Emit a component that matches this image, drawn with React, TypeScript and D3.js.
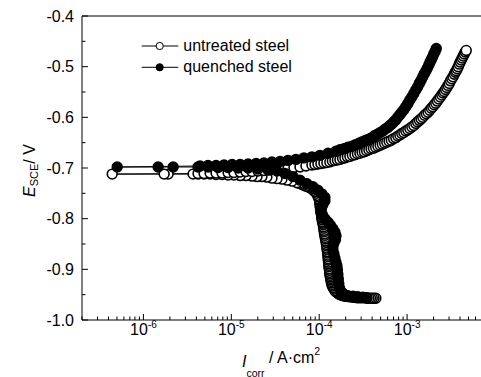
import React from "react";
import * as d3 from "d3";

// [current density (A/cm2), potential (V vs SCE)], in scan order
// cathodic branch first, then anodic branch
const untreated: [number, number][] = [
  [4.41e-4, -0.957], [4.21e-4, -0.957], [4.02e-4, -0.957], [3.84e-4, -0.957], [3.67e-4, -0.957],
  [3.48e-4, -0.957], [3.3e-4, -0.956], [3.13e-4, -0.956], [2.97e-4, -0.956], [2.82e-4, -0.956],
  [2.68e-4, -0.956], [2.54e-4, -0.955], [2.41e-4, -0.955], [2.29e-4, -0.954], [2.17e-4, -0.954],
  [2.06e-4, -0.953], [1.96e-4, -0.953], [1.87e-4, -0.952], [1.79e-4, -0.951], [1.72e-4, -0.95],
  [1.65e-4, -0.948], [1.6e-4, -0.946], [1.55e-4, -0.944], [1.51e-4, -0.942], [1.47e-4, -0.939],
  [1.44e-4, -0.936], [1.41e-4, -0.933], [1.395e-4, -0.93], [1.38e-4, -0.927], [1.37e-4, -0.924],
  [1.36e-4, -0.921], [1.35e-4, -0.918], [1.34e-4, -0.915], [1.33e-4, -0.912], [1.32e-4, -0.909],
  [1.315e-4, -0.906], [1.31e-4, -0.902], [1.3e-4, -0.899], [1.29e-4, -0.895], [1.285e-4, -0.892],
  [1.28e-4, -0.889], [1.275e-4, -0.886], [1.27e-4, -0.882], [1.265e-4, -0.879], [1.26e-4, -0.875],
  [1.255e-4, -0.872], [1.25e-4, -0.868], [1.24e-4, -0.865], [1.23e-4, -0.861], [1.225e-4, -0.858],
  [1.22e-4, -0.854], [1.21e-4, -0.851], [1.2e-4, -0.847], [1.19e-4, -0.844], [1.18e-4, -0.84],
  [1.17e-4, -0.837], [1.16e-4, -0.833], [1.15e-4, -0.83], [1.14e-4, -0.826], [1.135e-4, -0.823],
  [1.13e-4, -0.819], [1.12e-4, -0.816], [1.11e-4, -0.812], [1.1e-4, -0.809], [1.09e-4, -0.806],
  [1.08e-4, -0.802], [1.07e-4, -0.799], [1.065e-4, -0.796], [1.06e-4, -0.792], [1.05e-4, -0.789],
  [1.04e-4, -0.785], [1.035e-4, -0.782], [1.03e-4, -0.778], [1.025e-4, -0.775], [1.02e-4, -0.771],
  [1.015e-4, -0.768], [1.01e-4, -0.764], [9.95e-5, -0.761], [9.79e-5, -0.757], [9.54e-5, -0.754],
  [9.29e-5, -0.75], [8.93e-5, -0.747], [8.59e-5, -0.744], [8.21e-5, -0.741], [7.84e-5, -0.739],
  [7.44e-5, -0.737], [7.06e-5, -0.736], [6.66e-5, -0.734], [6.28e-5, -0.732], [5.92e-5, -0.73],
  [5.58e-5, -0.729], [4.9e-5, -0.726], [4.3e-5, -0.724], [3.77e-5, -0.722], [3.31e-5, -0.721],
  [2.9e-5, -0.72], [2.54e-5, -0.718], [2.23e-5, -0.717], [1.96e-5, -0.717], [1.72e-5, -0.716],
  [1.47e-5, -0.715], [1.26e-5, -0.715], [1.07e-5, -0.714], [9.18e-6, -0.714], [7.84e-6, -0.713],
  [6.7e-6, -0.713], [5.73e-6, -0.712], [4.9e-6, -0.712], [4.18e-6, -0.712], [3.67e-6, -0.712],
  [1.91e-6, -0.712], [1.72e-6, -0.712], [4.41e-7, -0.712],
  [4.18e-6, -0.711], [4.9e-6, -0.711], [5.73e-6, -0.71], [6.7e-6, -0.71], [7.84e-6, -0.71],
  [9.18e-6, -0.709], [1.07e-5, -0.709], [1.26e-5, -0.708], [1.47e-5, -0.707], [1.72e-5, -0.707],
  [2.01e-5, -0.706], [2.35e-5, -0.705], [2.75e-5, -0.704], [3.22e-5, -0.703], [3.77e-5, -0.702],
  [4.41e-5, -0.701], [5.16e-5, -0.699], [6.04e-5, -0.698], [7.06e-5, -0.696], [8.26e-5, -0.694],
  [8.94e-5, -0.693], [9.67e-5, -0.692], [1.045e-4, -0.691], [1.13e-4, -0.69], [1.22e-4, -0.689],
  [1.32e-4, -0.688], [1.41e-4, -0.686], [1.51e-4, -0.685], [1.61e-4, -0.684], [1.72e-4, -0.683],
  [1.84e-4, -0.681], [1.96e-4, -0.68], [2.09e-4, -0.678], [2.23e-4, -0.677], [2.38e-4, -0.675],
  [2.55e-4, -0.674], [2.72e-4, -0.672], [2.9e-4, -0.671], [3.07e-4, -0.669], [3.26e-4, -0.668],
  [3.46e-4, -0.666], [3.67e-4, -0.664], [3.89e-4, -0.662], [4.13e-4, -0.661], [4.38e-4, -0.659],
  [4.65e-4, -0.657], [4.93e-4, -0.655], [5.22e-4, -0.653], [5.54e-4, -0.651], [5.87e-4, -0.649],
  [6.23e-4, -0.647], [6.61e-4, -0.645], [7.01e-4, -0.642], [7.44e-4, -0.64], [7.84e-4, -0.637],
  [8.26e-4, -0.635], [8.7e-4, -0.632], [9.17e-4, -0.63], [9.66e-4, -0.627], [1.018e-3, -0.625],
  [1.073e-3, -0.622], [1.131e-3, -0.619], [1.192e-3, -0.616], [1.256e-3, -0.612], [1.315e-3, -0.609],
  [1.376e-3, -0.606], [1.441e-3, -0.603], [1.508e-3, -0.6], [1.578e-3, -0.596], [1.652e-3, -0.593],
  [1.73e-3, -0.59], [1.811e-3, -0.586], [1.884e-3, -0.582], [1.959e-3, -0.579], [2.037e-3, -0.575],
  [2.119e-3, -0.572], [2.204e-3, -0.568], [2.292e-3, -0.564], [2.384e-3, -0.56], [2.479e-3, -0.556],
  [2.562e-3, -0.552], [2.647e-3, -0.549], [2.735e-3, -0.545], [2.826e-3, -0.541], [2.92e-3, -0.537],
  [3.017e-3, -0.533], [3.117e-3, -0.528], [3.221e-3, -0.524], [3.328e-3, -0.52], [3.439e-3, -0.515],
  [3.53e-3, -0.511], [3.624e-3, -0.508], [3.72e-3, -0.504], [3.818e-3, -0.5], [3.919e-3, -0.495],
  [4.022e-3, -0.491], [4.13e-3, -0.487], [4.24e-3, -0.483], [4.352e-3, -0.479], [4.467e-3, -0.475],
  [4.585e-3, -0.471], [4.707e-3, -0.468],
];

const quenched: [number, number][] = [
  [3.48e-4, -0.956], [3.14e-4, -0.955], [2.75e-4, -0.954], [2.42e-4, -0.953], [2.12e-4, -0.952],
  [1.91e-4, -0.949], [1.77e-4, -0.944], [1.7e-4, -0.937], [1.67e-4, -0.928], [1.65e-4, -0.919],
  [1.63e-4, -0.91], [1.61e-4, -0.901], [1.59e-4, -0.893], [1.55e-4, -0.886], [1.51e-4, -0.878],
  [1.47e-4, -0.87], [1.43e-4, -0.862], [1.43e-4, -0.855], [1.47e-4, -0.848], [1.53e-4, -0.841],
  [1.55e-4, -0.834], [1.51e-4, -0.827], [1.43e-4, -0.82], [1.34e-4, -0.813], [1.26e-4, -0.807],
  [1.16e-4, -0.8], [1.09e-4, -0.793], [1.05e-4, -0.786], [1.06e-4, -0.779], [1.1e-4, -0.772],
  [1.16e-4, -0.765], [1.16e-4, -0.758], [1.07e-4, -0.751], [9.67e-5, -0.744], [8.48e-5, -0.737],
  [7.25e-5, -0.731], [6.04e-5, -0.724], [5.03e-5, -0.717], [4.08e-5, -0.711], [3.31e-5, -0.706],
  [2.61e-5, -0.704], [2.01e-5, -0.702], [1.55e-5, -0.7], [1.19e-5, -0.7], [9.18e-6, -0.699],
  [7.06e-6, -0.699], [5.43e-6, -0.698], [4.18e-6, -0.698], [2.18e-6, -0.698], [1.47e-6, -0.698],
  [5.03e-7, -0.698],
  [4.41e-6, -0.696], [5.43e-6, -0.695], [6.7e-6, -0.695], [8.26e-6, -0.694], [1.02e-5, -0.693],
  [1.26e-5, -0.693], [1.55e-5, -0.692], [1.91e-5, -0.691], [2.35e-5, -0.69], [2.9e-5, -0.688],
  [3.58e-5, -0.687], [4.41e-5, -0.685], [5.43e-5, -0.683], [6.7e-5, -0.68], [8.26e-5, -0.678],
  [1.02e-4, -0.675], [1.26e-4, -0.671], [1.55e-4, -0.667], [1.72e-4, -0.664], [1.91e-4, -0.662],
  [2.12e-4, -0.659], [2.35e-4, -0.657], [2.58e-4, -0.654], [2.83e-4, -0.651], [3.1e-4, -0.648],
  [3.4e-4, -0.645], [3.67e-4, -0.643], [3.97e-4, -0.64], [4.28e-4, -0.636], [4.65e-4, -0.633],
  [4.96e-4, -0.63], [5.3e-4, -0.627], [5.65e-4, -0.623], [6.04e-4, -0.62], [6.36e-4, -0.616],
  [6.7e-4, -0.613], [7.06e-4, -0.609], [7.44e-4, -0.605], [7.84e-4, -0.6], [8.26e-4, -0.595],
  [8.7e-4, -0.59], [9.17e-4, -0.585], [9.66e-4, -0.579], [1.018e-3, -0.573], [1.073e-3, -0.566],
  [1.131e-3, -0.56], [1.192e-3, -0.553], [1.256e-3, -0.546], [1.316e-3, -0.54], [1.376e-3, -0.533],
  [1.442e-3, -0.527], [1.508e-3, -0.52], [1.568e-3, -0.514], [1.631e-3, -0.509], [1.697e-3, -0.503],
  [1.765e-3, -0.497], [1.825e-3, -0.491], [1.884e-3, -0.486], [1.949e-3, -0.481], [2.011e-3, -0.475],
  [2.081e-3, -0.47], [2.147e-3, -0.464],
];

const seriesNames = ["untreated steel", "quenched steel"];
const xTickExponents = [-6, -5, -4, -3];
const yTicks = [-1.0, -0.9, -0.8, -0.7, -0.6, -0.5, -0.4];

const width = 481;
const height = 377;
const font = "'Liberation Sans', Arial, Helvetica, sans-serif";

export default function App() {
  const x = d3.scaleLog().domain([2e-7, 1e-2]).range([82, 495]);
  const y = d3.scaleLinear().domain([-1.0, -0.4]).range([320, 16]);
  const line = d3
    .line<[number, number]>()
    .x((d) => x(d[0]))
    .y((d) => y(d[1]));

  const minorX: number[] = [];
  for (let e = -7; e <= -3; e++) {
    for (let k = 2; k <= 9; k++) {
      const v = k * Math.pow(10, e);
      if (v >= 2e-7 && v < 7e-3) minorX.push(v);
    }
  }
  const minorY = d3.range(0, 6).map((i) => -0.95 + i * 0.1);

  const series = [
    { data: untreated, fill: "#fff" },
    { data: quenched, fill: "#000" },
  ];

  return (
    <>
      <style>{`body{margin:0;overflow:hidden;}`}</style>
      <svg width={width} height={height} style={{ display: "block" }} fontFamily={font}>
        <rect width={width} height={height} fill="#fff" />

        {/* frame */}
        <g stroke="#000" strokeWidth={1} fill="none">
          <line x1={82} y1={16} x2={82} y2={320} />
          <line x1={82} y1={320} x2={width} y2={320} />
          <line x1={82} y1={16} x2={width} y2={16} />
        </g>

        {/* ticks */}
        <g stroke="#000" strokeWidth={1}>
          {xTickExponents.map((e) => (
            <line key={"xM" + e} x1={x(Math.pow(10, e))} x2={x(Math.pow(10, e))} y1={320} y2={314} />
          ))}
          {minorX.map((v, i) => (
            <line key={"xm" + i} x1={x(v)} x2={x(v)} y1={320} y2={316.5} />
          ))}
          {yTicks.map((v) => (
            <line key={"yM" + v} x1={82} x2={88} y1={y(v)} y2={y(v)} />
          ))}
          {minorY.map((v, i) => (
            <line key={"ym" + i} x1={82} x2={85.5} y1={y(v)} y2={y(v)} />
          ))}
        </g>

        {/* tick labels */}
        <g fontSize={16} fill="#000">
          {yTicks.map((v) => (
            <text key={"yl" + v} x={74} y={y(v) + 5.7} textAnchor="end">
              {v.toFixed(1)}
            </text>
          ))}
          {xTickExponents.map((e) => (
            <text key={"xl" + e} x={x(Math.pow(10, e))} y={335} textAnchor="middle">
              <tspan>10</tspan>
              <tspan dy={-7} fontSize={10}>
                {String(e)}
              </tspan>
            </text>
          ))}
        </g>

        {/* axis titles */}
        <text x={242} y={363} fontSize={16}>
          <tspan y={367} fontStyle="italic">I</tspan>
          <tspan y={376.5} fontSize={10.5}>corr</tspan>
          <tspan y={363}> / A·cm</tspan>
          <tspan y={355} fontSize={10.5}>2</tspan>
        </text>
        <text transform="translate(35,197) rotate(-90)" fontSize={16}>
          <tspan fontStyle="italic">E</tspan>
          <tspan dy={3} fontSize={11}>SCE</tspan>
          <tspan dy={-3}>/ V</tspan>
        </text>

        {/* series */}
        {series.map((s, si) => (
          <g key={"s" + si}>
            <path d={line(s.data) || ""} fill="none" stroke="#000" strokeWidth={1} />
            {s.data.map((d, i) => (
              <circle
                key={i}
                cx={x(d[0])}
                cy={y(d[1])}
                r={4.9}
                fill={s.fill}
                stroke="#000"
                strokeWidth={1.6}
              />
            ))}
          </g>
        ))}

        {/* legend */}
        {seriesNames.map((name, i) => {
          const ly = 46 + i * 21.3;
          return (
            <g key={name}>
              <line x1={141.7} x2={178.3} y1={ly} y2={ly} stroke="#000" strokeWidth={1} />
              <circle cx={159.7} cy={ly} r={3.6} fill={series[i].fill} stroke="#000" strokeWidth={1} />
              <text x={183.3} y={ly + 5} fontSize={16}>
                {name}
              </text>
            </g>
          );
        })}
      </svg>
    </>
  );
}
